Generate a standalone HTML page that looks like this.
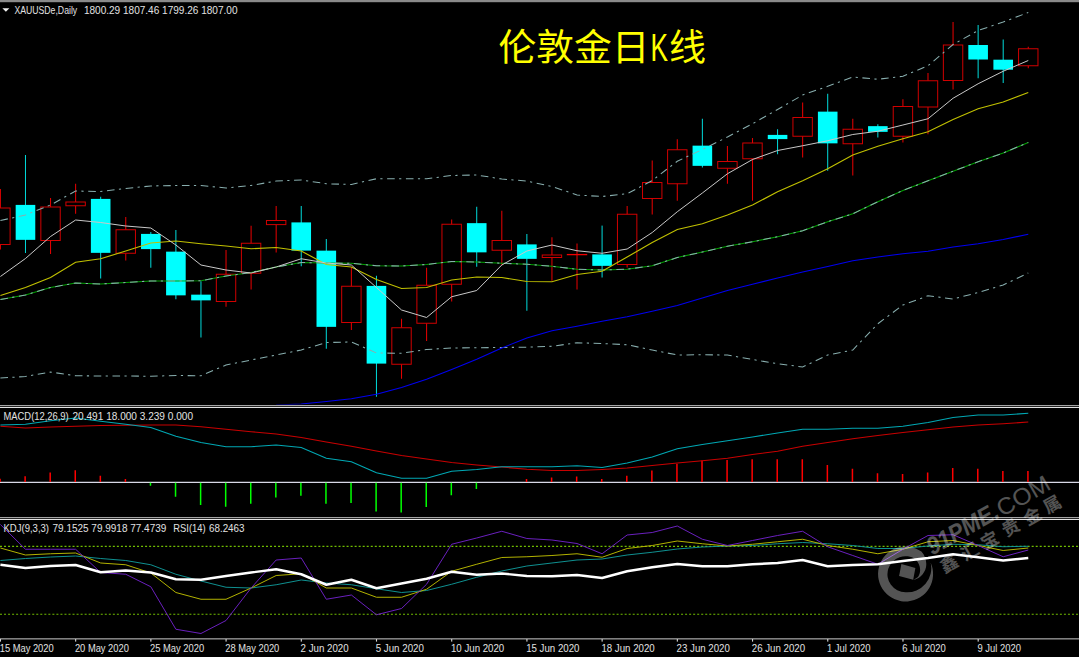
<!DOCTYPE html>
<html><head><meta charset="utf-8"><title>XAUUSD Daily</title>
<style>html,body{margin:0;padding:0;background:#000;overflow:hidden}body{width:1079px;height:657px;position:relative;font-family:"Liberation Sans",sans-serif}</style></head>
<body>
<svg width="1079" height="657" viewBox="0 0 1079 657" style="position:absolute;left:0;top:0;display:block">
<rect x="0" y="0" width="1079" height="657" fill="#000"/>
<defs><clipPath id="cm"><rect x="0" y="3" width="1079" height="401.5"/></clipPath><clipPath id="ck"><rect x="0" y="521" width="1079" height="117"/></clipPath></defs>
<rect x="0" y="0" width="1079" height="2.2" fill="#8a8a8a"/>
<g clip-path="url(#cm)">
<line x1="0.40" y1="189" x2="0.40" y2="249.5" stroke="#e00000" stroke-width="1.05"/>
<rect x="-9.30" y="208" width="19.40" height="36.50" fill="#000" stroke="#d00000" stroke-width="1.0"/>
<line x1="25.47" y1="155" x2="25.47" y2="253" stroke="#00dcdc" stroke-width="1.0"/>
<rect x="15.67" y="204.9" width="19.60" height="34.95" fill="#00ffff"/>
<line x1="50.54" y1="198" x2="50.54" y2="254" stroke="#e00000" stroke-width="1.05"/>
<rect x="40.84" y="207" width="19.40" height="33.50" fill="#000" stroke="#d00000" stroke-width="1.0"/>
<line x1="75.61" y1="183.75" x2="75.61" y2="213.75" stroke="#e00000" stroke-width="1.05"/>
<rect x="65.91" y="202" width="19.40" height="3.75" fill="#000" stroke="#d00000" stroke-width="1.0"/>
<line x1="100.68" y1="196.75" x2="100.68" y2="278.5" stroke="#00dcdc" stroke-width="1.0"/>
<rect x="90.88" y="198.9" width="19.60" height="53.95" fill="#00ffff"/>
<line x1="125.75" y1="217" x2="125.75" y2="260.5" stroke="#e00000" stroke-width="1.05"/>
<rect x="116.05" y="229.75" width="19.40" height="23.50" fill="#000" stroke="#d00000" stroke-width="1.0"/>
<line x1="150.82" y1="232" x2="150.82" y2="267.75" stroke="#00dcdc" stroke-width="1.0"/>
<rect x="141.02" y="233.9" width="19.60" height="15.20" fill="#00ffff"/>
<line x1="175.89" y1="230" x2="175.89" y2="299.25" stroke="#00dcdc" stroke-width="1.0"/>
<rect x="166.09" y="251.65" width="19.60" height="43.70" fill="#00ffff"/>
<line x1="200.96" y1="281.25" x2="200.96" y2="337.5" stroke="#00dcdc" stroke-width="1.0"/>
<rect x="191.16" y="294.65" width="19.60" height="5.70" fill="#00ffff"/>
<line x1="226.03" y1="250" x2="226.03" y2="306.75" stroke="#e00000" stroke-width="1.05"/>
<rect x="216.33" y="274.25" width="19.40" height="27.25" fill="#000" stroke="#d00000" stroke-width="1.0"/>
<line x1="251.10" y1="225.75" x2="251.10" y2="289.5" stroke="#e00000" stroke-width="1.05"/>
<rect x="241.40" y="243.25" width="19.40" height="30.00" fill="#000" stroke="#d00000" stroke-width="1.0"/>
<line x1="276.17" y1="206" x2="276.17" y2="252.5" stroke="#e00000" stroke-width="1.05"/>
<rect x="266.47" y="220.5" width="19.40" height="4.10" fill="#000" stroke="#d00000" stroke-width="1.0"/>
<line x1="301.24" y1="206" x2="301.24" y2="266.25" stroke="#00dcdc" stroke-width="1.0"/>
<rect x="291.44" y="222.4" width="19.60" height="28.20" fill="#00ffff"/>
<line x1="326.31" y1="239" x2="326.31" y2="348.75" stroke="#00dcdc" stroke-width="1.0"/>
<rect x="316.51" y="250.65" width="19.60" height="76.20" fill="#00ffff"/>
<line x1="351.38" y1="267" x2="351.38" y2="330" stroke="#e00000" stroke-width="1.05"/>
<rect x="341.68" y="286.25" width="19.40" height="36.25" fill="#000" stroke="#d00000" stroke-width="1.0"/>
<line x1="376.45" y1="275.75" x2="376.45" y2="396.75" stroke="#00dcdc" stroke-width="1.0"/>
<rect x="366.65" y="285.9" width="19.60" height="77.70" fill="#00ffff"/>
<line x1="401.52" y1="318.75" x2="401.52" y2="378.75" stroke="#e00000" stroke-width="1.05"/>
<rect x="391.82" y="327.75" width="19.40" height="36.50" fill="#000" stroke="#d00000" stroke-width="1.0"/>
<line x1="426.59" y1="267.75" x2="426.59" y2="341" stroke="#e00000" stroke-width="1.05"/>
<rect x="416.89" y="285.25" width="19.40" height="38.00" fill="#000" stroke="#d00000" stroke-width="1.0"/>
<line x1="451.66" y1="219.5" x2="451.66" y2="301.5" stroke="#e00000" stroke-width="1.05"/>
<rect x="441.96" y="224.25" width="19.40" height="60.00" fill="#000" stroke="#d00000" stroke-width="1.0"/>
<line x1="476.73" y1="206.75" x2="476.73" y2="266.75" stroke="#00dcdc" stroke-width="1.0"/>
<rect x="466.93" y="223.15" width="19.60" height="29.20" fill="#00ffff"/>
<line x1="501.80" y1="210.75" x2="501.80" y2="265" stroke="#e00000" stroke-width="1.05"/>
<rect x="492.10" y="240.5" width="19.40" height="9.75" fill="#000" stroke="#d00000" stroke-width="1.0"/>
<line x1="526.87" y1="234" x2="526.87" y2="310.75" stroke="#00dcdc" stroke-width="1.0"/>
<rect x="517.07" y="244.4" width="19.60" height="14.45" fill="#00ffff"/>
<line x1="551.94" y1="237.25" x2="551.94" y2="280.75" stroke="#e00000" stroke-width="1.05"/>
<rect x="542.24" y="255" width="19.40" height="2.50" fill="#000" stroke="#d00000" stroke-width="1.0"/>
<line x1="577.01" y1="243.5" x2="577.01" y2="289.5" stroke="#e00000" stroke-width="1.05"/>
<rect x="566.81" y="253.95" width="20.40" height="1.3" fill="#f00000"/>
<line x1="602.08" y1="225.6" x2="602.08" y2="277.5" stroke="#00dcdc" stroke-width="1.0"/>
<rect x="592.28" y="254.4" width="19.60" height="11.45" fill="#00ffff"/>
<line x1="627.15" y1="206" x2="627.15" y2="267.5" stroke="#e00000" stroke-width="1.05"/>
<rect x="617.45" y="214.25" width="19.40" height="50.25" fill="#000" stroke="#d00000" stroke-width="1.0"/>
<line x1="652.22" y1="160.5" x2="652.22" y2="214.5" stroke="#e00000" stroke-width="1.05"/>
<rect x="642.52" y="182.5" width="19.40" height="16.00" fill="#000" stroke="#d00000" stroke-width="1.0"/>
<line x1="677.29" y1="139.25" x2="677.29" y2="200.75" stroke="#e00000" stroke-width="1.05"/>
<rect x="667.59" y="149.75" width="19.40" height="34.00" fill="#000" stroke="#d00000" stroke-width="1.0"/>
<line x1="702.36" y1="118.75" x2="702.36" y2="167.5" stroke="#00dcdc" stroke-width="1.0"/>
<rect x="692.56" y="145.65" width="19.60" height="20.20" fill="#00ffff"/>
<line x1="727.43" y1="146" x2="727.43" y2="183.75" stroke="#e00000" stroke-width="1.05"/>
<rect x="717.73" y="161.5" width="19.40" height="6.75" fill="#000" stroke="#d00000" stroke-width="1.0"/>
<line x1="752.50" y1="138" x2="752.50" y2="200.75" stroke="#e00000" stroke-width="1.05"/>
<rect x="742.80" y="143" width="19.40" height="15.75" fill="#000" stroke="#d00000" stroke-width="1.0"/>
<line x1="777.57" y1="129.25" x2="777.57" y2="154.25" stroke="#00dcdc" stroke-width="1.0"/>
<rect x="767.77" y="134.9" width="19.60" height="4.20" fill="#00ffff"/>
<line x1="802.64" y1="102.5" x2="802.64" y2="157.5" stroke="#e00000" stroke-width="1.05"/>
<rect x="792.94" y="117.5" width="19.40" height="18.75" fill="#000" stroke="#d00000" stroke-width="1.0"/>
<line x1="827.71" y1="93.75" x2="827.71" y2="170.75" stroke="#00dcdc" stroke-width="1.0"/>
<rect x="817.91" y="111.65" width="19.60" height="31.70" fill="#00ffff"/>
<line x1="852.78" y1="118.75" x2="852.78" y2="175.5" stroke="#e00000" stroke-width="1.05"/>
<rect x="843.08" y="129.25" width="19.40" height="14.50" fill="#000" stroke="#d00000" stroke-width="1.0"/>
<line x1="877.85" y1="124.25" x2="877.85" y2="137.5" stroke="#00dcdc" stroke-width="1.0"/>
<rect x="868.05" y="126.15" width="19.60" height="5.70" fill="#00ffff"/>
<line x1="902.92" y1="99.25" x2="902.92" y2="142.5" stroke="#e00000" stroke-width="1.05"/>
<rect x="893.22" y="106.5" width="19.40" height="29.75" fill="#000" stroke="#d00000" stroke-width="1.0"/>
<line x1="927.99" y1="73" x2="927.99" y2="134.25" stroke="#e00000" stroke-width="1.05"/>
<rect x="918.29" y="80.75" width="19.40" height="26.25" fill="#000" stroke="#d00000" stroke-width="1.0"/>
<line x1="953.06" y1="22" x2="953.06" y2="89.5" stroke="#e00000" stroke-width="1.05"/>
<rect x="943.36" y="45" width="19.40" height="35.50" fill="#000" stroke="#d00000" stroke-width="1.0"/>
<line x1="978.13" y1="25" x2="978.13" y2="78.25" stroke="#00dcdc" stroke-width="1.0"/>
<rect x="968.33" y="45.0" width="19.60" height="14.50" fill="#00ffff"/>
<line x1="1003.20" y1="39.5" x2="1003.20" y2="83" stroke="#00dcdc" stroke-width="1.0"/>
<rect x="993.40" y="59.699999999999996" width="19.60" height="10.00" fill="#00ffff"/>
<line x1="1028.27" y1="46.75" x2="1028.27" y2="68.25" stroke="#e00000" stroke-width="1.05"/>
<rect x="1018.57" y="48.75" width="19.40" height="17.00" fill="#000" stroke="#d00000" stroke-width="1.0"/>
<polyline points="0.40,220.50 25.47,215.00 50.54,205.00 75.61,191.00 100.68,191.50 125.75,188.50 150.82,186.00 175.89,185.50 200.96,185.50 226.03,188.00 251.10,185.50 276.17,181.00 301.24,180.00 326.31,183.75 351.38,184.50 376.45,178.75 401.52,178.75 426.59,178.75 451.66,175.50 476.73,175.00 501.80,179.00 526.87,181.00 551.94,186.50 577.01,195.00 602.08,196.50 627.15,193.75 652.22,180.50 677.29,161.25 702.36,149.50 727.43,137.00 752.50,123.75 777.57,109.50 802.64,95.00 827.71,86.25 852.78,77.00 877.85,79.25 902.92,76.25 927.99,65.75 953.06,44.50 978.13,30.50 1003.20,22.00 1028.27,12.50" fill="none" stroke="#88aeae" stroke-width="1.05" stroke-dasharray="7.6 4.4 2.2 4.6"/>
<polyline points="0.40,378.00 25.47,376.50 50.54,372.00 75.61,375.75 100.68,376.00 125.75,376.00 150.82,376.25 175.89,375.50 200.96,375.75 226.03,365.00 251.10,360.00 276.17,355.00 301.24,350.00 326.31,342.50 351.38,342.00 376.45,353.00 401.52,353.25 426.59,349.50 451.66,348.00 476.73,347.75 501.80,347.50 526.87,347.25 551.94,346.25 577.01,342.75 602.08,343.50 627.15,344.75 652.22,350.00 677.29,355.00 702.36,354.75 727.43,355.00 752.50,359.50 777.57,363.75 802.64,367.00 827.71,355.00 852.78,350.00 877.85,323.75 902.92,305.00 927.99,295.75 953.06,299.00 978.13,292.50 1003.20,285.00 1028.27,273.00" fill="none" stroke="#88aeae" stroke-width="1.05" stroke-dasharray="7.6 4.4 2.2 4.6"/>
<polyline points="276.17,405.00 301.24,404.00 326.31,401.50 351.38,398.75 376.45,394.25 401.52,387.50 426.59,379.25 451.66,369.50 476.73,359.25 501.80,348.00 526.87,338.00 551.94,330.75 577.01,326.25 602.08,321.25 627.15,316.75 652.22,311.25 677.29,305.50 702.36,298.00 727.43,290.50 752.50,284.25 777.57,278.00 802.64,272.00 827.71,266.50 852.78,260.75 877.85,257.00 902.92,253.75 927.99,251.25 953.06,247.00 978.13,243.75 1003.20,239.50 1028.27,234.25" fill="none" stroke="#0000f0" stroke-width="1.1"/>
<polyline points="0.40,299.50 25.47,295.00 50.54,287.50 75.61,283.00 100.68,284.00 125.75,282.50 150.82,281.00 175.89,281.00 200.96,280.75 226.03,276.00 251.10,272.50 276.17,267.00 301.24,262.50 326.31,263.00 351.38,263.25 376.45,265.75 401.52,266.00 426.59,264.50 451.66,261.50 476.73,262.00 501.80,263.25 526.87,264.25 551.94,266.25 577.01,269.25 602.08,270.00 627.15,269.25 652.22,265.75 677.29,257.50 702.36,252.00 727.43,246.25 752.50,241.75 777.57,236.75 802.64,230.75 827.71,221.75 852.78,213.75 877.85,201.75 902.92,190.50 927.99,180.75 953.06,171.25 978.13,161.75 1003.20,153.00 1028.27,142.50" fill="none" stroke="#00a000" stroke-width="1.15"/>
<polyline points="0.40,299.50 25.47,295.00 50.54,287.50 75.61,283.00 100.68,284.00 125.75,282.50 150.82,281.00 175.89,281.00 200.96,280.75 226.03,276.00 251.10,272.50 276.17,267.00 301.24,262.50 326.31,263.00 351.38,263.25 376.45,265.75 401.52,266.00 426.59,264.50 451.66,261.50 476.73,262.00 501.80,263.25 526.87,264.25 551.94,266.25 577.01,269.25 602.08,270.00 627.15,269.25 652.22,265.75 677.29,257.50 702.36,252.00 727.43,246.25 752.50,241.75 777.57,236.75 802.64,230.75 827.71,221.75 852.78,213.75 877.85,201.75 902.92,190.50 927.99,180.75 953.06,171.25 978.13,161.75 1003.20,153.00 1028.27,142.50" fill="none" stroke="#88aeae" stroke-width="1.05" stroke-dasharray="7.6 4.4 2.2 4.6"/>
<polyline points="0.40,295.50 25.47,287.50 50.54,277.50 75.61,262.25 100.68,258.75 125.75,251.00 150.82,243.00 175.89,241.00 200.96,243.75 226.03,246.00 251.10,248.75 276.17,247.50 301.24,251.00 326.31,264.50 351.38,267.00 376.45,279.50 401.52,288.50 426.59,287.50 451.66,280.00 476.73,277.00 501.80,277.50 526.87,281.50 551.94,281.75 577.01,274.50 602.08,271.25 627.15,257.00 652.22,242.50 677.29,229.50 702.36,223.75 727.43,215.00 752.50,205.00 777.57,191.75 802.64,180.75 827.71,168.75 852.78,155.00 877.85,146.25 902.92,138.75 927.99,131.75 953.06,119.50 978.13,108.75 1003.20,102.00 1028.27,92.50" fill="none" stroke="#c0c000" stroke-width="1.15"/>
<polyline points="0.40,276.50 25.47,258.50 50.54,236.50 75.61,220.00 100.68,222.50 125.75,226.00 150.82,228.00 175.89,245.00 200.96,265.00 226.03,270.00 251.10,273.00 276.17,267.00 301.24,258.75 326.31,263.00 351.38,265.00 376.45,287.50 401.52,310.00 426.59,317.50 451.66,296.75 476.73,290.50 501.80,265.00 526.87,251.00 551.94,245.00 577.01,250.75 602.08,253.25 627.15,249.00 652.22,232.50 677.29,211.75 702.36,193.00 727.43,173.75 752.50,159.50 777.57,150.50 802.64,145.75 827.71,140.75 852.78,134.50 877.85,131.25 902.92,125.00 927.99,118.75 953.06,98.25 978.13,83.75 1003.20,71.25 1028.27,60.50" fill="none" stroke="#c8c8c8" stroke-width="1.0"/>
</g>
<rect x="0" y="405" width="1079" height="1" fill="#a4a4a4"/>
<rect x="0" y="406" width="1079" height="1" fill="#242424"/>
<rect x="0" y="407" width="1079" height="1" fill="#e2e2e2"/>
<rect x="0" y="517" width="1079" height="1" fill="#a4a4a4"/>
<rect x="0" y="518" width="1079" height="1" fill="#242424"/>
<rect x="0" y="519" width="1079" height="1" fill="#e2e2e2"/>
<line x1="0" y1="482.3" x2="1079" y2="482.3" stroke="#d8d8e6" stroke-width="1.2"/>
<rect x="-0.70" y="478.75" width="1.5" height="3.25" fill="#ff0000"/>
<rect x="24.37" y="476.25" width="1.5" height="5.75" fill="#ff0000"/>
<rect x="49.44" y="472.5" width="1.5" height="9.50" fill="#ff0000"/>
<rect x="74.51" y="470.25" width="1.5" height="11.75" fill="#ff0000"/>
<rect x="99.58" y="475.75" width="1.5" height="6.25" fill="#ff0000"/>
<rect x="124.65" y="479" width="1.5" height="3.00" fill="#ff0000"/>
<rect x="149.72" y="482.7" width="1.5" height="3.05" fill="#00ff00"/>
<rect x="174.79" y="482.7" width="1.5" height="14.05" fill="#00ff00"/>
<rect x="199.86" y="482.7" width="1.5" height="22.30" fill="#00ff00"/>
<rect x="224.93" y="482.7" width="1.5" height="24.05" fill="#00ff00"/>
<rect x="250.00" y="482.7" width="1.5" height="21.05" fill="#00ff00"/>
<rect x="275.07" y="482.7" width="1.5" height="14.80" fill="#00ff00"/>
<rect x="300.14" y="482.7" width="1.5" height="13.05" fill="#00ff00"/>
<rect x="325.21" y="482.7" width="1.5" height="21.05" fill="#00ff00"/>
<rect x="350.28" y="482.7" width="1.5" height="20.30" fill="#00ff00"/>
<rect x="375.35" y="482.7" width="1.5" height="28.80" fill="#00ff00"/>
<rect x="400.42" y="482.7" width="1.5" height="29.80" fill="#00ff00"/>
<rect x="425.49" y="482.7" width="1.5" height="24.30" fill="#00ff00"/>
<rect x="450.56" y="482.7" width="1.5" height="12.55" fill="#00ff00"/>
<rect x="475.63" y="482.7" width="1.5" height="6.30" fill="#00ff00"/>
<rect x="525.77" y="479" width="1.5" height="3.00" fill="#ff0000"/>
<rect x="550.84" y="477.5" width="1.5" height="4.50" fill="#ff0000"/>
<rect x="575.91" y="476.5" width="1.5" height="5.50" fill="#ff0000"/>
<rect x="600.98" y="479" width="1.5" height="3.00" fill="#ff0000"/>
<rect x="626.05" y="475.75" width="1.5" height="6.25" fill="#ff0000"/>
<rect x="651.12" y="470.5" width="1.5" height="11.50" fill="#ff0000"/>
<rect x="676.19" y="463.75" width="1.5" height="18.25" fill="#ff0000"/>
<rect x="701.26" y="460.5" width="1.5" height="21.50" fill="#ff0000"/>
<rect x="726.33" y="460" width="1.5" height="22.00" fill="#ff0000"/>
<rect x="751.40" y="459.25" width="1.5" height="22.75" fill="#ff0000"/>
<rect x="776.47" y="459.25" width="1.5" height="22.75" fill="#ff0000"/>
<rect x="801.54" y="459.25" width="1.5" height="22.75" fill="#ff0000"/>
<rect x="826.61" y="465" width="1.5" height="17.00" fill="#ff0000"/>
<rect x="851.68" y="468.75" width="1.5" height="13.25" fill="#ff0000"/>
<rect x="876.75" y="473.25" width="1.5" height="8.75" fill="#ff0000"/>
<rect x="901.82" y="474" width="1.5" height="8.00" fill="#ff0000"/>
<rect x="926.89" y="472.5" width="1.5" height="9.50" fill="#ff0000"/>
<rect x="951.96" y="468" width="1.5" height="14.00" fill="#ff0000"/>
<rect x="977.03" y="468.75" width="1.5" height="13.25" fill="#ff0000"/>
<rect x="1002.10" y="471" width="1.5" height="11.00" fill="#ff0000"/>
<rect x="1027.17" y="471" width="1.5" height="11.00" fill="#ff0000"/>
<polyline points="0.40,426.25 25.47,428.00 50.54,427.00 75.61,426.25 100.68,425.50 125.75,425.25 150.82,425.00 175.89,425.00 200.96,426.75 226.03,429.25 251.10,431.75 276.17,434.00 301.24,437.50 326.31,442.00 351.38,446.25 376.45,451.00 401.52,455.50 426.59,459.00 451.66,462.50 476.73,465.00 501.80,467.00 526.87,469.25 551.94,470.50 577.01,470.50 602.08,469.50 627.15,468.00 652.22,465.50 677.29,463.00 702.36,460.75 727.43,458.25 752.50,454.50 777.57,451.25 802.64,446.25 827.71,442.50 852.78,438.75 877.85,435.50 902.92,432.50 927.99,429.75 953.06,427.00 978.13,425.00 1003.20,423.75 1028.27,422.00" fill="none" stroke="#c80000" stroke-width="1.15"/>
<polyline points="0.40,425.00 25.47,424.25 50.54,420.75 75.61,418.00 100.68,421.25 125.75,424.25 150.82,427.50 175.89,436.25 200.96,442.50 226.03,446.75 251.10,446.75 276.17,445.00 301.24,447.50 326.31,458.25 351.38,461.75 376.45,472.75 401.52,478.25 426.59,478.25 451.66,471.25 476.73,469.50 501.80,466.75 526.87,466.75 551.94,466.75 577.01,465.75 602.08,467.50 627.15,463.00 652.22,457.00 677.29,448.75 702.36,444.50 727.43,440.75 752.50,437.00 777.57,433.00 802.64,429.25 827.71,429.25 852.78,428.25 877.85,428.25 902.92,426.25 927.99,422.50 953.06,417.50 978.13,415.00 1003.20,415.00 1028.27,413.25" fill="none" stroke="#00a8b4" stroke-width="1.15"/>
<line x1="0" y1="546.4" x2="1079" y2="546.4" stroke="#70bc00" stroke-width="1.1" stroke-dasharray="2 2.03"/>
<line x1="0" y1="614.3" x2="1079" y2="614.3" stroke="#70bc00" stroke-width="1.1" stroke-dasharray="2 2.03"/>
<g clip-path="url(#ck)">
<polyline points="0.40,560.50 25.47,558.50 50.54,557.00 75.61,556.00 100.68,558.50 125.75,560.50 150.82,564.75 175.89,574.25 200.96,581.00 226.03,587.25 251.10,588.00 276.17,584.75 301.24,580.00 326.31,583.00 351.38,584.75 376.45,588.75 401.52,592.50 426.59,590.50 451.66,584.25 476.73,577.25 501.80,571.00 526.87,566.00 551.94,563.00 577.01,560.00 602.08,559.00 627.15,555.00 652.22,552.25 677.29,549.00 702.36,547.00 727.43,546.00 752.50,545.50 777.57,543.75 802.64,542.50 827.71,543.75 852.78,545.50 877.85,548.50 902.92,548.50 927.99,546.00 953.06,544.25 978.13,544.75 1003.20,546.75 1028.27,546.25" fill="none" stroke="#109898" stroke-width="0.95"/>
<polyline points="0.40,548.00 25.47,555.00 50.54,553.75 75.61,553.00 100.68,563.00 125.75,564.75 150.82,573.00 175.89,592.50 200.96,599.25 226.03,599.25 251.10,588.00 276.17,575.50 301.24,573.75 326.31,588.00 351.38,588.00 376.45,597.25 401.52,597.25 426.59,589.25 451.66,571.25 476.73,564.25 501.80,557.50 526.87,556.75 551.94,555.50 577.01,553.75 602.08,557.25 627.15,548.50 652.22,545.50 677.29,541.00 702.36,543.75 727.43,546.00 752.50,544.25 777.57,541.75 802.64,539.25 827.71,545.50 852.78,549.25 877.85,553.75 902.92,549.25 927.99,541.75 953.06,540.50 978.13,545.50 1003.20,550.50 1028.27,548.00" fill="none" stroke="#bcbc00" stroke-width="0.95"/>
<polyline points="0.40,524.50 25.47,549.25 50.54,549.25 75.61,549.25 100.68,572.50 125.75,574.25 150.82,586.75 175.89,629.25 200.96,633.50 226.03,620.50 251.10,588.00 276.17,560.00 301.24,558.00 326.31,599.25 351.38,595.00 376.45,614.75 401.52,608.50 426.59,584.25 451.66,544.25 476.73,538.00 501.80,531.25 526.87,538.50 551.94,540.00 577.01,543.50 602.08,553.75 627.15,535.00 652.22,532.50 677.29,526.00 702.36,539.25 727.43,545.50 752.50,540.50 777.57,535.50 802.64,531.25 827.71,546.75 852.78,555.50 877.85,564.25 902.92,549.25 927.99,535.50 953.06,534.75 978.13,545.50 1003.20,556.75 1028.27,550.00" fill="none" stroke="#7022c8" stroke-width="0.95"/>
<polyline points="0.40,564.75 25.47,568.00 50.54,566.00 75.61,565.00 100.68,572.25 125.75,570.50 150.82,572.50 175.89,579.25 200.96,579.75 226.03,576.00 251.10,572.50 276.17,569.25 301.24,574.25 326.31,584.75 351.38,579.75 376.45,588.25 401.52,583.50 426.59,578.75 451.66,571.75 476.73,574.75 501.80,573.50 526.87,576.00 551.94,576.25 577.01,575.00 602.08,578.00 627.15,571.25 652.22,567.25 677.29,564.00 702.36,566.25 727.43,566.25 752.50,564.25 777.57,563.00 802.64,560.00 827.71,566.25 852.78,565.00 877.85,564.25 902.92,561.00 927.99,558.00 953.06,554.25 978.13,557.25 1003.20,560.50 1028.27,558.00" fill="none" stroke="#ffffff" stroke-width="2.45" stroke-linejoin="round"/>
</g>
<rect x="0" y="638.4" width="1079" height="0.95" fill="#d4d4d4"/>
<rect x="-0.10" y="639" width="1.1" height="2.6" fill="#d8d8d8"/>
<rect x="75.11" y="639" width="1.1" height="2.6" fill="#d8d8d8"/>
<rect x="150.32" y="639" width="1.1" height="2.6" fill="#d8d8d8"/>
<rect x="225.53" y="639" width="1.1" height="2.6" fill="#d8d8d8"/>
<rect x="300.74" y="639" width="1.1" height="2.6" fill="#d8d8d8"/>
<rect x="375.95" y="639" width="1.1" height="2.6" fill="#d8d8d8"/>
<rect x="451.16" y="639" width="1.1" height="2.6" fill="#d8d8d8"/>
<rect x="526.37" y="639" width="1.1" height="2.6" fill="#d8d8d8"/>
<rect x="601.58" y="639" width="1.1" height="2.6" fill="#d8d8d8"/>
<rect x="676.79" y="639" width="1.1" height="2.6" fill="#d8d8d8"/>
<rect x="752.00" y="639" width="1.1" height="2.6" fill="#d8d8d8"/>
<rect x="827.21" y="639" width="1.1" height="2.6" fill="#d8d8d8"/>
<rect x="902.42" y="639" width="1.1" height="2.6" fill="#d8d8d8"/>
<rect x="977.63" y="639" width="1.1" height="2.6" fill="#d8d8d8"/>
<text x="-0.30" y="651.8" font-size="10.6" font-family="Liberation Sans, sans-serif" fill="#e2e2e2" textLength="54" lengthAdjust="spacingAndGlyphs">15 May 2020</text>
<text x="74.91" y="651.8" font-size="10.6" font-family="Liberation Sans, sans-serif" fill="#e2e2e2" textLength="54" lengthAdjust="spacingAndGlyphs">20 May 2020</text>
<text x="150.12" y="651.8" font-size="10.6" font-family="Liberation Sans, sans-serif" fill="#e2e2e2" textLength="54" lengthAdjust="spacingAndGlyphs">25 May 2020</text>
<text x="225.33" y="651.8" font-size="10.6" font-family="Liberation Sans, sans-serif" fill="#e2e2e2" textLength="54" lengthAdjust="spacingAndGlyphs">28 May 2020</text>
<text x="300.54" y="651.8" font-size="10.6" font-family="Liberation Sans, sans-serif" fill="#e2e2e2" textLength="48.1" lengthAdjust="spacingAndGlyphs">2 Jun 2020</text>
<text x="375.75" y="651.8" font-size="10.6" font-family="Liberation Sans, sans-serif" fill="#e2e2e2" textLength="48.1" lengthAdjust="spacingAndGlyphs">5 Jun 2020</text>
<text x="450.96" y="651.8" font-size="10.6" font-family="Liberation Sans, sans-serif" fill="#e2e2e2" textLength="53.3" lengthAdjust="spacingAndGlyphs">10 Jun 2020</text>
<text x="526.17" y="651.8" font-size="10.6" font-family="Liberation Sans, sans-serif" fill="#e2e2e2" textLength="53.3" lengthAdjust="spacingAndGlyphs">15 Jun 2020</text>
<text x="601.38" y="651.8" font-size="10.6" font-family="Liberation Sans, sans-serif" fill="#e2e2e2" textLength="53.3" lengthAdjust="spacingAndGlyphs">18 Jun 2020</text>
<text x="676.59" y="651.8" font-size="10.6" font-family="Liberation Sans, sans-serif" fill="#e2e2e2" textLength="53.3" lengthAdjust="spacingAndGlyphs">23 Jun 2020</text>
<text x="751.80" y="651.8" font-size="10.6" font-family="Liberation Sans, sans-serif" fill="#e2e2e2" textLength="53.3" lengthAdjust="spacingAndGlyphs">26 Jun 2020</text>
<text x="827.01" y="651.8" font-size="10.6" font-family="Liberation Sans, sans-serif" fill="#e2e2e2" textLength="43.5" lengthAdjust="spacingAndGlyphs">1 Jul 2020</text>
<text x="902.22" y="651.8" font-size="10.6" font-family="Liberation Sans, sans-serif" fill="#e2e2e2" textLength="43.5" lengthAdjust="spacingAndGlyphs">6 Jul 2020</text>
<text x="977.43" y="651.8" font-size="10.6" font-family="Liberation Sans, sans-serif" fill="#e2e2e2" textLength="43.5" lengthAdjust="spacingAndGlyphs">9 Jul 2020</text>
<path d="M2.4 8.2 L9.4 8.2 L5.9 11.8 Z" fill="#f0f0f0"/>
<text x="14.4" y="13.6" font-size="10.6" font-family="Liberation Sans, sans-serif" fill="#e2e2e2" textLength="62.8" lengthAdjust="spacingAndGlyphs">XAUUSDe,Daily</text>
<text x="83.9" y="13.6" font-size="10.6" font-family="Liberation Sans, sans-serif" fill="#e2e2e2" textLength="153.6" lengthAdjust="spacingAndGlyphs">1800.29 1807.46 1799.26 1807.00</text>
<text x="3.5" y="419.6" font-size="10.6" font-family="Liberation Sans, sans-serif" fill="#e2e2e2" textLength="65.2" lengthAdjust="spacingAndGlyphs">MACD(12,26,9)</text>
<text x="72.5" y="419.6" font-size="10.6" font-family="Liberation Sans, sans-serif" fill="#e2e2e2" textLength="120.5" lengthAdjust="spacingAndGlyphs">20.491 18.000 3.239 0.000</text>
<text x="3.5" y="531.9" font-size="10.6" font-family="Liberation Sans, sans-serif" fill="#e2e2e2" textLength="45.5" lengthAdjust="spacingAndGlyphs">KDJ(9,3,3)</text>
<text x="52.5" y="531.9" font-size="10.6" font-family="Liberation Sans, sans-serif" fill="#e2e2e2" textLength="113.8" lengthAdjust="spacingAndGlyphs">79.1525 79.9918 77.4739</text>
<text x="173.3" y="531.9" font-size="10.6" font-family="Liberation Sans, sans-serif" fill="#e2e2e2" textLength="32.2" lengthAdjust="spacingAndGlyphs">RSI(14)</text>
<text x="209" y="531.9" font-size="10.6" font-family="Liberation Sans, sans-serif" fill="#e2e2e2" textLength="35.5" lengthAdjust="spacingAndGlyphs">68.2463</text>
<text x="498.5" y="61.1" font-size="37" font-family="'Liberation Sans', 'Noto Sans CJK SC', sans-serif" fill="#ffff00" textLength="151" lengthAdjust="spacingAndGlyphs">伦敦金日</text>
<text x="650.5" y="60.6" font-size="38.5" font-family="'Liberation Sans', 'Noto Sans CJK SC', sans-serif" fill="#ffff00" textLength="17.5" lengthAdjust="spacingAndGlyphs">K</text>
<text x="669" y="61.1" font-size="37" font-family="'Liberation Sans', 'Noto Sans CJK SC', sans-serif" fill="#ffff00">线</text>
<g opacity="0.33" fill="#ffffff">
<g transform="translate(905.4 573.8)">
<path d="M8 6.3 C12.5 5.6 19 1 20.6 -6.5 C21.6 -12 20 -18 16 -22.3 A27.5 27.5 0 1 0 25.2 -11.2 A24 24 0 0 1 0 18.4 A18 18 0 1 1 10.3 -14.4 C14.5 -10 16.6 -3 12.6 3.2 Z"/>
<path d="M-4 -9.7 L10 -5.7 L7.8 5.9 L-6.3 2.3 Z"/>
</g>
<text transform="translate(932.3 555.6) rotate(-29.5)" x="0" y="0" font-size="24.7" font-weight="bold" font-style="italic" font-family="Liberation Sans, sans-serif" textLength="79" lengthAdjust="spacingAndGlyphs">91PME.</text>
<text transform="translate(1006 505.5) rotate(-30)" x="-9" y="8.3" font-size="23.5" font-family="'Liberation Sans', sans-serif" textLength="57.5" lengthAdjust="spacingAndGlyphs">COM</text>
<text transform="translate(948.9 563.3) rotate(-29.5)" x="0" y="6.65" font-size="17.5" font-weight="bold" text-anchor="middle" font-family="'Liberation Sans', 'Noto Sans CJK SC', sans-serif">鑫</text>
<text transform="translate(969.6 551.3) rotate(-29.5)" x="0" y="6.65" font-size="17.5" font-weight="bold" text-anchor="middle" font-family="'Liberation Sans', 'Noto Sans CJK SC', sans-serif">汇</text>
<text transform="translate(989.6 539.8) rotate(-29.5)" x="0" y="6.65" font-size="17.5" font-weight="bold" text-anchor="middle" font-family="'Liberation Sans', 'Noto Sans CJK SC', sans-serif">宝</text>
<text transform="translate(1010.6 527.2) rotate(-29.5)" x="0" y="6.65" font-size="17.5" font-weight="bold" text-anchor="middle" font-family="'Liberation Sans', 'Noto Sans CJK SC', sans-serif">贵</text>
<text transform="translate(1032.2 516.0) rotate(-29.5)" x="0" y="6.65" font-size="17.5" font-weight="bold" text-anchor="middle" font-family="'Liberation Sans', 'Noto Sans CJK SC', sans-serif">金</text>
<text transform="translate(1052.2 504.2) rotate(-29.5)" x="0" y="6.65" font-size="17.5" font-weight="bold" text-anchor="middle" font-family="'Liberation Sans', 'Noto Sans CJK SC', sans-serif">属</text>
</g>
</svg>
</body></html>
